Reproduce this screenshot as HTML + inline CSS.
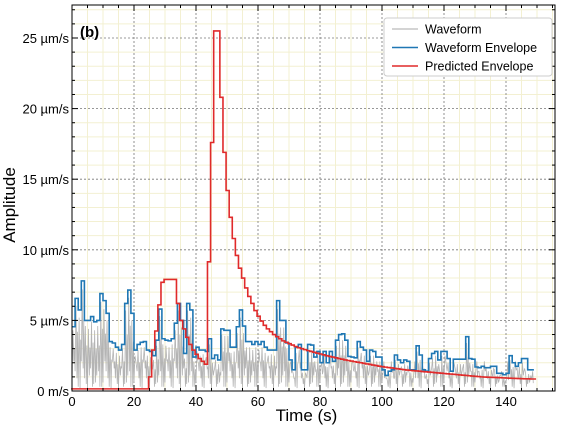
<!DOCTYPE html>
<html><head><meta charset="utf-8">
<style>
html,body{margin:0;padding:0;background:#fff;}
svg{display:block;font-family:"Liberation Sans","DejaVu Sans",sans-serif;}
</style></head>
<body>
<svg id="chart" width="573" height="431" viewBox="0 0 573 431" xmlns="http://www.w3.org/2000/svg">
<rect x="0" y="0" width="573" height="431" fill="#fff"/>
<g id="grid"></g>
<g id="series"></g>
<g id="axes"></g>
<g id="legend"></g>
</svg>
<script>
// ---- data ----
const xTicks = [0,20,40,60,80,100,120,140];
const yTicks = [0,5,10,15,20,25];
const yTickLabels = ["0 m/s","5 µm/s","10 µm/s","15 µm/s","20 µm/s","25 µm/s"];
const blueEnvelope = [4.55,6.56,5.74,7.8,5.0,5.0,5.27,4.9,5.0,6.9,6.4,5.5,3.5,3.4,3.1,2.9,3.3,6.2,7.15,5.5,
2.9,3.3,3.45,3.5,2.9,2.8,2.5,3.6,5.8,3.7,3.6,3.55,3.7,4.8,6.2,5.0,2.66,6.2,5.74,2.4,
3.1,2.9,2.9,2.8,3.7,2.3,2.55,2.2,4.4,4.3,4.3,3.1,3.1,4.55,5.74,4.6,3.5,3.5,3.3,3.5,
3.3,3.5,3.1,2.9,2.9,2.9,6.4,5.0,5.0,3.4,2.2,1.5,3.1,3.3,
1.5,1.5,3.3,3.25,2.4,2.8,2.0,2.8,2.0,2.8,2.1,3.6,4.0,4.05,3.6,2.45,2.4,2.35,3.5,3.1,
2.9,2.1,2.9,2.8,2.4,2.4,1.5,1.1,1.4,1.5,2.55,2.2,2.0,2.2,2.1,1.5,1.5,3.2,2.55,1.5,1.4,
2.3,2.66,2.8,2.2,2.8,2.8,2.3,1.4,2.25,2.25,2.25,2.25,3.85,2.3,2.25,1.7,1.65,1.75,1.65,1.65,1.75,
1.75,1.25,1.25,1.15,1.25,2.5,2.0,1.75,2.0,2.3,2.3,1.5,1.5];
const predictedEnvelope = [0.15,0.15,0.15,0.15,0.15,0.15,0.15,0.15,0.15,0.15,0.15,0.15,0.15,0.15,0.15,0.15,0.15,0.15,0.15,0.15,
0.15,0.15,0.15,0.15,0.15,1.0,2.9,4.25,6.1,7.7,7.9,7.9,7.9,7.9,6.2,5.0,4.4,3.8,3.3,2.9,
2.6,2.3,2.1,1.9,9.15,17.6,25.5,25.5,20.8,16.9,14.2,12.3,10.8,9.6,8.7,8.0,7.3,6.7,6.2,5.7,
5.3,4.95,4.65,4.4,4.2,4.0,3.85,3.7,3.55,3.45,3.35,3.25,3.15,3.07,3.0,2.93,2.86,2.8,2.74,2.68,
2.62,2.56,2.5,2.45,2.4,2.35,2.3,2.25,2.2,2.16,2.12,2.08,2.04,2.0,1.96,1.92,1.88,1.84,1.8,1.76,
1.72,1.69,1.66,1.63,1.6,1.57,1.54,1.51,1.48,1.46,1.44,1.42,1.4,1.38,1.36,1.34,1.32,1.3,1.28,1.26,
1.24,1.22,1.2,1.18,1.16,1.14,1.12,1.1,1.08,1.06,1.04,1.02,1.0,0.99,0.98,0.97,0.96,0.95,0.94,0.93,
0.92,0.91,0.9,0.89,0.88,0.87,0.86,0.86,0.85,0.85];
const wavePeaks = [4.3,6.0,5.2,7.2,4.6,4.4,4.9,4.3,4.6,6.3,5.8,5.0,3.1,3.0,2.7,2.5,3.0,5.7,6.6,5.0,
2.5,2.9,3.1,3.1,2.5,2.4,2.2,3.2,5.3,3.3,3.2,3.1,3.3,4.3,5.7,4.5,2.3,5.7,5.2,2.1,
2.8,2.5,2.6,2.4,3.3,2.0,2.2,1.9,4.0,3.9,3.9,2.7,2.8,4.1,5.2,4.1,3.1,3.1,2.9,3.1,
2.9,3.1,2.7,2.5,2.6,2.5,5.8,4.5,4.5,3.0,1.9,1.3,2.7,2.9,1.3,1.3,2.9,2.9,2.1,2.5,
1.7,2.5,1.7,2.5,1.8,3.2,3.6,3.6,3.2,2.1,2.1,2.0,3.1,2.7,2.5,1.8,2.5,2.5,2.1,2.1,
1.3,0.9,1.2,1.3,2.2,1.9,1.7,1.9,1.8,1.3,1.3,2.8,2.2,1.3,1.2,2.0,2.3,2.5,1.9,2.5,
2.5,2.0,1.2,1.9,1.9,1.9,1.9,3.4,2.0,1.9,1.5,1.4,1.5,1.4,1.4,1.5,1.5,1.1,1.1,1.0,
1.1,2.2,1.7,1.5,1.7,2.0,1.3,1.2,0.8];
const waveTroughs = [0.6,1.4,0.3,2.1,0.9,0.2,1.6,0.5,1.1,0.3];
// ---- layout ----
const L=72,R=555,T=5,B=391;
const X=t=>L+t*3.1;
const Y=v=>B-v*14.12;
const NS="http://www.w3.org/2000/svg";
function el(parent,tag,attrs){const e=document.createElementNS(NS,tag);for(const k in attrs)e.setAttribute(k,attrs[k]);parent.appendChild(e);return e;}
const grid=document.getElementById('grid'),series=document.getElementById('series'),axes=document.getElementById('axes'),legend=document.getElementById('legend');
for(let t=0;t*3.1+L<=R;t+=5){if(t%20===0)continue;const l=el(grid,'line',{x1:X(t),x2:X(t),y1:T,y2:B,stroke:'#f3f0d2','stroke-width':1});

}
for(let v=1;Y(v)>=T;v+=1){if(v%5===0)continue;const l=el(grid,'line',{x1:L,x2:R,y1:Y(v),y2:Y(v),stroke:'#f3f0d2','stroke-width':1});

}
xTicks.forEach(t=>{const l=el(grid,'line',{x1:X(t),x2:X(t),y1:T,y2:B,stroke:'#777','stroke-width':0.8,'stroke-dasharray':'2,2'});

});
yTicks.forEach(v=>{const l=el(grid,'line',{x1:L,x2:R,y1:Y(v),y2:Y(v),stroke:'#777','stroke-width':0.8,'stroke-dasharray':'2,2'});

});
let wd='';
wavePeaks.forEach((p,i)=>{const tr=waveTroughs[i%waveTroughs.length];const tr2=waveTroughs[(i+3)%waveTroughs.length];
wd+=(i===0?'M':'L')+X(i)+','+Y(tr)+' L'+X(i+0.3)+','+Y(p)+' L'+X(i+0.6)+','+Y(tr2)+' L'+X(i+0.8)+','+Y(p*0.7);});
const wave=el(series,'path',{d:wd,fill:'none',stroke:'#b4b4b4','stroke-width':0.8});


function stepPath(arr,off){let d='';arr.forEach((v,i)=>{d+=(i===0?'M':'L')+X(i+off)+','+Y(v)+' L'+X(i+1+off)+','+Y(v)+' ';});return d;}
const blue=el(series,'path',{d:stepPath(blueEnvelope,0),fill:'none',stroke:'#1f77b4','stroke-width':1.6});


const red=el(series,'path',{d:stepPath(predictedEnvelope,-0.3),fill:'none',stroke:'#e02a2a','stroke-width':1.6});


const fr=el(axes,'rect',{x:L,y:T,width:R-L,height:B-T,fill:'none',stroke:'#000','stroke-width':1});


for(let t=0;X(t)<=R;t+=5){const len=(t%20===0)?6:3;
el(axes,'line',{x1:X(t),x2:X(t),y1:B,y2:B-len,stroke:'#000'});
el(axes,'line',{x1:X(t),x2:X(t),y1:T,y2:T+len,stroke:'#000'});}
for(let v=0;Y(v)>=T;v+=1){const len=(v%5===0)?6:3;
el(axes,'line',{x1:L,x2:L+len,y1:Y(v),y2:Y(v),stroke:'#000'});
el(axes,'line',{x1:R,x2:R-len,y1:Y(v),y2:Y(v),stroke:'#000'});}
xTicks.forEach(t=>{const tx=el(axes,'text',{x:X(t),y:B+15,'text-anchor':'middle','font-size':13});tx.textContent=t;

});
yTicks.forEach((v,i)=>{const tx=el(axes,'text',{x:L-3,y:Y(v)+5,'text-anchor':'end','font-size':13});tx.textContent=yTickLabels[i];

});
const xt=el(axes,'text',{x:(L+R)/2-7,y:421,'text-anchor':'middle','font-size':17});xt.textContent='Time (s)';


const yt=el(axes,'text',{x:0,y:0,'text-anchor':'middle','font-size':17,transform:'translate(15,205) rotate(-90)'});yt.textContent='Amplitude';


const pl=el(axes,'text',{x:80,y:37,'font-size':15,'font-weight':'bold'});pl.textContent='(b)';


const lb=el(legend,'rect',{x:384,y:18,width:168,height:58,rx:3,fill:'#fff',stroke:'#ccc','stroke-width':1});


[['Waveform','#aaaaaa',1],['Waveform Envelope','#1f77b4',1.6],['Predicted Envelope','#e02a2a',1.6]].forEach((e,i)=>{
const y=29+i*18.5;
const ln=el(legend,'line',{x1:392,x2:418,y1:y,y2:y,stroke:e[1],'stroke-width':e[2]});


const tx=el(legend,'text',{x:425,y:y+4.5,'font-size':12.5});tx.textContent=e[0];

});
</script>
</body></html>
